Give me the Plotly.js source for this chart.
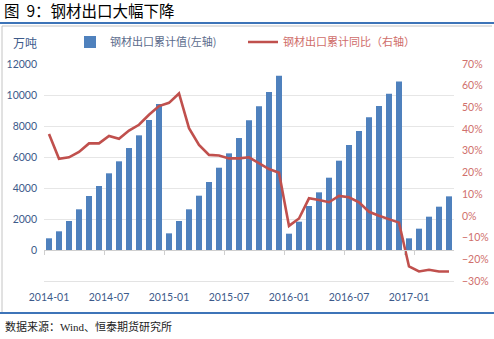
<!DOCTYPE html>
<html>
<head>
<meta charset="utf-8">
<script src="https://cdn.plot.ly/plotly-3.0.1.min.js"></script>
<style>html,body{margin:0;padding:0;background:#fff;}#chart{width:494px;height:339px;}</style>
</head>
<body>
<div id="chart"></div>
<script>
// ---- data ----
const months = [
  '2014-01','2014-02','2014-03','2014-04','2014-05','2014-06','2014-07','2014-08','2014-09','2014-10','2014-11','2014-12',
  '2015-01','2015-02','2015-03','2015-04','2015-05','2015-06','2015-07','2015-08','2015-09','2015-10','2015-11','2015-12',
  '2016-01','2016-02','2016-03','2016-04','2016-05','2016-06','2016-07','2016-08','2016-09','2016-10','2016-11','2016-12',
  '2017-01','2017-02','2017-03','2017-04','2017-05'
];
// 钢材出口累计值 (万吨)
const exportCum = [
  755, 1206, 1870, 2625, 3483, 4128, 4947, 5721, 6579, 7398, 8385, 9417,
  1075, 1870, 2625, 3504, 4386, 5310, 6235, 7224, 8364, 9267, 10191, 11246,
  1053, 1828, 2838, 3720, 4665, 5762, 6773, 7676, 8557, 9288, 10083, 10878,
  753, 1376, 2150, 2795, 3461
];
// 钢材出口累计同比 (%)
const exportYoY = [
  37.7, 26.3, 27.0, 29.5, 33.4, 33.4, 36.8, 35.5, 39.3, 42.0, 46.6, 50.6,
  52.1, 56.4, 40.4, 32.7, 28.1, 27.8, 26.5, 26.5, 27.0, 24.2, 21.6, 19.9,
  -4.6, -1.2, 8.1, 7.3, 6.3, 9.2, 8.6, 6.3, 1.9, 0.1, -1.4, -3.1,
  -23.3, -25.6, -24.8, -25.6, -25.6
];
const xTickLabels = ['2014-01','2014-07','2015-01','2015-07','2016-01','2016-07','2017-01'];
const leftTicks = [0, 2000, 4000, 6000, 8000, 10000, 12000];
const seriesNames = ['钢材出口累计值(左轴)', '钢材出口累计同比（右轴）'];
const titleText = '图\u00a0\u00a09：钢材出口大幅下降';
const unitText = '万吨';
const sourceText = '数据来源：Wind、恒泰期货研究所';

// ---- layout helpers ----
const W = 494, H = 339;
const M = {l: 44, r: 40, t: 64, b: 58};
const PW = W - M.l - M.r, PH = H - M.t - M.b;
const px = x => (x - M.l) / PW;           // pixel -> paper x
const py = y => (H - M.b - y) / PH;       // pixel -> paper y
const yRange = [-2000, 12000];
const zeroPos = (0 - yRange[0]) / (yRange[1] - yRange[0]);

const numFont = 'Lato, "Noto Sans CJK SC", sans-serif';
const cjkFont = '"Noto Sans CJK SC", Lato, sans-serif';

const traces = [
  {
    type: 'bar', x: months, y: exportCum, name: '<span style="color:#5b6b8c">' + seriesNames[0] + '</span>',
    marker: {color: '#4f81bd'}, xaxis: 'x', yaxis: 'y', hoverinfo: 'x+y'
  },
  {
    type: 'scatter', mode: 'lines', x: months, y: exportYoY, name: '<span style="color:#cf6d6a">' + seriesNames[1] + '</span>',
    line: {color: '#c0504d', width: 2.6}, xaxis: 'x2', yaxis: 'y2', hoverinfo: 'x+y'
  }
];

const layout = {
  width: W, height: H,
  margin: M,
  paper_bgcolor: '#ffffff', plot_bgcolor: '#ffffff',
  bargap: 0.4,
  showlegend: true,
  legend: {
    orientation: 'h', x: px(70), xanchor: 'left', y: py(42), yanchor: 'middle',
    font: {family: cjkFont, size: 11, color: '#5b6b8c'},
    entrywidth: 128, entrywidthmode: 'pixels', bgcolor: 'rgba(0,0,0,0)', traceorder: 'normal'
  },
  title: {
    text: titleText, x: 4 / W, xanchor: 'left', xref: 'container',
    y: 1 - 12 / H, yanchor: 'middle', yref: 'container',
    font: {family: cjkFont, size: 15.5, color: '#000000', weight: 'normal'}
  },
  xaxis: {
    type: 'category', range: [-0.5, months.length - 0.5],
    tickvals: xTickLabels, ticktext: xTickLabels,
    showgrid: false, zeroline: false,
    showline: true, linecolor: '#e3e3e3', linewidth: 1,
    ticks: '', ticklabelstandoff: 6,
    tickfont: {family: numFont, size: 10.5, color: '#3d5a8a'}
  },
  xaxis2: {
    type: 'category', overlaying: 'x', matches: 'x', anchor: 'free', position: zeroPos, side: 'bottom',
    tickvals: xTickLabels, tickson: 'boundaries',
    showticklabels: false, ticks: 'outside', ticklen: 4, tickcolor: '#d0d0d0', tickwidth: 1,
    showgrid: false, zeroline: false, showline: true, linecolor: '#d0d0d0', linewidth: 1
  },
  yaxis: {
    range: yRange, tickvals: leftTicks, tickformat: 'd', exponentformat: 'none',
    showgrid: true, gridcolor: '#e6e6e6', gridwidth: 1,
    zeroline: false, showline: false, ticks: '', ticklabelstandoff: 6,
    tickfont: {family: numFont, size: 10.5, color: '#3d5a8a'}
  },
  yaxis2: {
    overlaying: 'y', side: 'right', anchor: 'x', range: [-30, 70], dtick: 10, ticksuffix: '%',
    showgrid: false, zeroline: false, showline: false, ticks: '', ticklabelstandoff: 7,
    tickfont: {family: numFont, size: 10.5, color: '#d0706c'}
  },
  annotations: [
    {text: unitText, xref: 'paper', yref: 'paper', x: px(11), y: py(42), xanchor: 'left', yanchor: 'middle',
     showarrow: false, font: {family: cjkFont, size: 12, color: '#3d5a8a'}},
    {text: sourceText, xref: 'paper', yref: 'paper', x: px(3), y: py(326), xanchor: 'left', yanchor: 'middle',
     showarrow: false, font: {family: '"Liberation Serif", "DejaVu Serif", "Noto Sans CJK SC", serif', size: 11, color: '#222222'}}
  ],
  shapes: [
    {type: 'line', xref: 'paper', yref: 'paper', x0: px(0), x1: px(494), y0: py(23), y1: py(23), line: {color: '#3d74b8', width: 2}},
    {type: 'line', xref: 'paper', yref: 'paper', x0: px(2), x1: px(492), y0: py(26), y1: py(26), line: {color: '#c4c4c4', width: 1}},
    {type: 'line', xref: 'paper', yref: 'paper', x0: px(2), x1: px(2), y0: py(26), y1: py(312), line: {color: '#c4c4c4', width: 1}},
    {type: 'line', xref: 'paper', yref: 'paper', x0: px(0), x1: px(494), y0: py(313), y1: py(313), line: {color: '#3d74b8', width: 2}}
  ]
};

Plotly.newPlot('chart', traces, layout, {displayModeBar: false, staticPlot: true});
</script>
</body>
</html>
